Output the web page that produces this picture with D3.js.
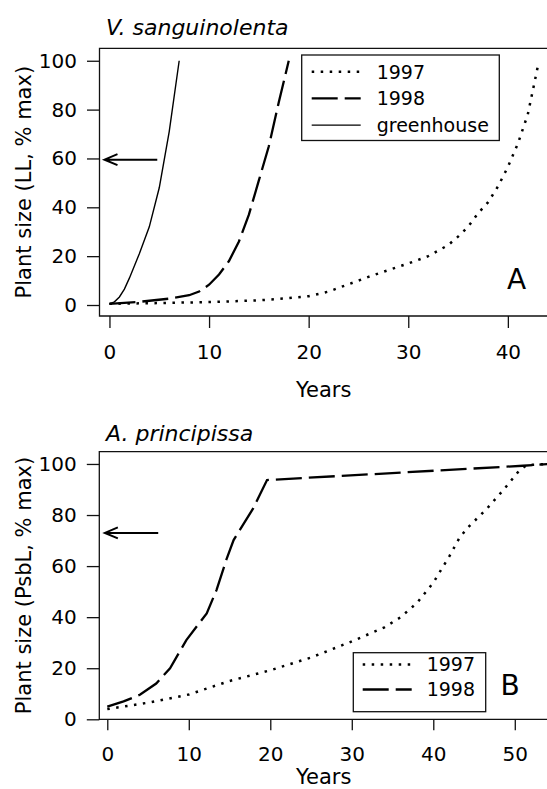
<!DOCTYPE html>
<html>
<head>
<meta charset="utf-8">
<script src="https://cdn.jsdelivr.net/npm/d3@7"></script>
<style>
  body { margin: 0; background: #fff; }
  svg { display: block; font-family: "DejaVu Sans", sans-serif; }
</style>
</head>
<body>
<div id="chart"></div>
<script>
// Panel A: V. sanguinolenta, [years, plant size % max]
const sang1997 = [[0,0.5],[5,0.8],[10,1.2],[15,1.9],[18,2.8],[20,3.6],[22,5.5],[24,8.5],[26,11.5],
  [28,14.3],[30,17],[32,20],[34,24.5],[35,28],[36,32],[37,37.5],[38,42],[39,48.5],[40,56.5],
  [41,66],[42,78],[43,97.5]];
const sang1998 = [[0,0.5],[3,1.3],[6,2.6],[8,4],[9,5.5],[10,8.3],[11,12.5],[12,18],[13,26],
  [14,37],[15,51],[16,65],[17,83],[18,100]];
const sangGreenhouse = [[0,0.5],[0.5,1.3],[1,3.3],[1.5,6.5],[2,11],[3,21],[4,32],[5,48],[6,71],[7,100]];

// Panel B: A. principissa
const princ1997 = [[0,4],[5,6.5],[10,9.7],[15,15],[20,19.2],[25,24.2],[30,30.5],[34,36],[36,40],
  [38,45.6],[40,53.5],[42,64],[43.2,71],[44.2,75],[46.5,82.2],[48.6,89.8],[50.6,97.6],[51.5,99.6],[54.1,100]];
const princ1998 = [[0,5],[2,7],[4,9.6],[6,14],[7.7,20],[9.7,31],[12.2,41.5],[13.4,50.6],[14.6,62.4],
  [15.5,70.2],[17.9,82.6],[19.6,93.7],[51,99.3],[54.1,100]];

const xTicksA = [0, 10, 20, 30, 40];
const xTicksB = [0, 10, 20, 30, 40, 50];
const yTicks = [0, 20, 40, 60, 80, 100];

// arrows pointing at the y axis (years from -> to, at size y)
const arrowA = { y: 59.5, from: 4.8, to: -0.5 };
const arrowB = { y: 73, from: 6.25, to: -0.3 };

// line type per series
const lineStyle = {
  "1997": { width: 2.5, dash: "2.5,6.5" },
  "1998": { width: 2.3, dash: "26,7" },
  "greenhouse": { width: 1.4, dash: null }
};

const W = 547, H = 789;
const ink = "#111";

const svg = d3.select("#chart")
    .append("svg")
    .attr("width", W)
    .attr("height", H);

function drawPanel(p) {
    const x = d3.scaleLinear().domain(p.xDomain).range([p.left, p.right]);
    const y = d3.scaleLinear().domain(p.yDomain).range([p.bottom, p.top]);
    const g = svg.append("g");

    // box (right side falls off the page)
    g.append("path")
        .attr("d", `M${p.right},${p.top}H${p.left}V${p.bottom}H${p.right}`)
        .attr("fill", "none")
        .attr("stroke", ink)
        .attr("stroke-width", 1.3);

    // y axis
    const yAxis = g.append("g")
        .attr("transform", `translate(${p.left},0)`)
        .call(d3.axisLeft(y).tickValues(yTicks).tickSize(12.5).tickPadding(10));
    yAxis.select(".domain").remove();
    yAxis.selectAll("line").attr("stroke", ink).attr("stroke-width", 1.3);
    yAxis.selectAll("text").attr("font-size", 20).attr("font-family", "DejaVu Sans").attr("fill", "#000");

    // x axis
    const xAxis = g.append("g")
        .attr("transform", `translate(0,${p.bottom})`)
        .call(d3.axisBottom(x).tickValues(p.xTicks).tickSize(p.xTickSize).tickPadding(p.xTickPad));
    xAxis.select(".domain").remove();
    xAxis.selectAll("line").attr("stroke", ink).attr("stroke-width", 1.3);
    xAxis.selectAll("text").attr("font-size", 20).attr("font-family", "DejaVu Sans").attr("fill", "#000");

    // axis titles
    g.append("text")
        .attr("x", (p.left + p.right) / 2)
        .attr("y", p.xLabelY)
        .attr("text-anchor", "middle")
        .attr("font-size", 21)
        .text("Years");

    g.append("text")
        .attr("transform", `translate(31,${(p.top + p.bottom) / 2}) rotate(-90)`)
        .attr("text-anchor", "middle")
        .attr("font-size", 21)
        .text(p.yLabel);

    // species title
    g.append("text")
        .attr("x", 106)
        .attr("y", p.titleY)
        .attr("font-size", 22)
        .attr("font-style", "italic")
        .text(p.title);

    // panel letter
    g.append("text")
        .attr("x", p.letterX)
        .attr("y", p.letterY)
        .attr("font-size", 28)
        .text(p.letter);

    // curves
    const line = d3.line()
        .x(d => x(d[0]))
        .y(d => y(d[1]));

    p.series.forEach(s => {
        const st = lineStyle[s.key];
        g.append("path")
            .datum(s.values)
            .attr("fill", "none")
            .attr("stroke", "#000")
            .attr("stroke-width", st.width)
            .attr("stroke-dasharray", st.dash)
            .attr("d", line);
    });

    // arrow
    const ax0 = x(p.arrow.from), ax1 = x(p.arrow.to), ay = y(p.arrow.y);
    g.append("path")
        .attr("d", `M${ax0},${ay}H${ax1}M${ax1 + 13},${ay - 5.5}L${ax1},${ay}L${ax1 + 13},${ay + 5.5}`)
        .attr("fill", "none")
        .attr("stroke", "#000")
        .attr("stroke-width", 2);

    // legend
    const lg = p.legend;
    g.append("rect")
        .attr("x", lg.x0).attr("y", lg.y0)
        .attr("width", lg.x1 - lg.x0).attr("height", lg.y1 - lg.y0)
        .attr("fill", "#fff")
        .attr("stroke", ink)
        .attr("stroke-width", 1.3);

    p.series.forEach((s, i) => {
        const st = lineStyle[s.key];
        const ry = lg.rowY + i * lg.rowStep;
        g.append("line")
            .attr("x1", lg.sampleX).attr("x2", lg.sampleX + 49)
            .attr("y1", ry).attr("y2", ry)
            .attr("stroke", "#000")
            .attr("stroke-width", st.width)
            .attr("stroke-dasharray", st.dash);
        g.append("text")
            .attr("x", lg.textX)
            .attr("y", ry + 6.8)
            .attr("font-size", 19)
            .text(s.key);
    });
}

drawPanel({
    left: 99.5, right: 548, top: 48.3, bottom: 316,
    xDomain: [-1, 44.03], yDomain: [-4.5, 105.1],
    xTicks: xTicksA, xTickSize: 12, xTickPad: 17,
    xLabelY: 397,
    yLabel: "Plant size (LL, % max)",
    title: "V. sanguinolenta", titleY: 35,
    letter: "A", letterX: 507, letterY: 288.5,
    series: [
        { key: "1997", values: sang1997 },
        { key: "1998", values: sang1998 },
        { key: "greenhouse", values: sangGreenhouse }
    ],
    arrow: arrowA,
    legend: { x0: 301.7, x1: 499.3, y0: 55, y1: 140.5, rowY: 71.7, rowStep: 26.7, sampleX: 311.7, textX: 376.7 }
});

drawPanel({
    left: 99.3, right: 548.2, top: 451.7, bottom: 719.3,
    xDomain: [-0.98, 54.1], yDomain: [0, 104.8],
    xTicks: xTicksB, xTickSize: 11, xTickPad: 16.7,
    xLabelY: 784,
    yLabel: "Plant size (PsbL, % max)",
    title: "A. principissa", titleY: 441,
    letter: "B", letterX: 500.5, letterY: 695,
    series: [
        { key: "1997", values: princ1997 },
        { key: "1998", values: princ1998 }
    ],
    arrow: arrowB,
    legend: { x0: 353.3, x1: 485.7, y0: 652.7, y1: 711.7, rowY: 664.5, rowStep: 25, sampleX: 362.7, textX: 426.7 }
});
</script>
</body>
</html>
